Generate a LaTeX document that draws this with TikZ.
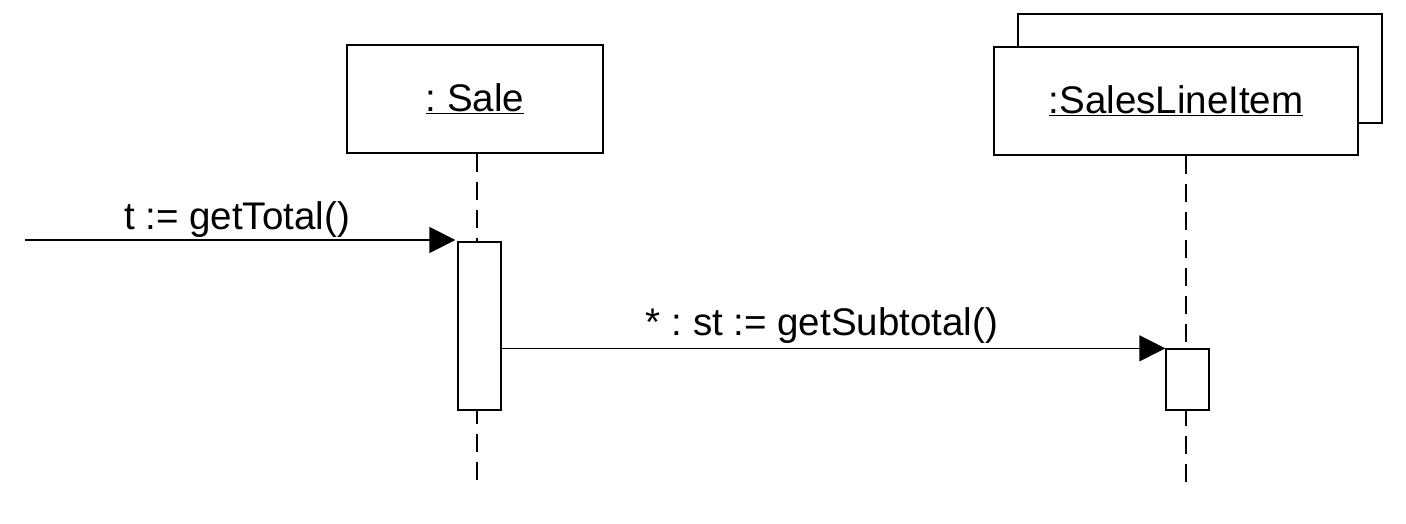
\documentclass[tikz,border=0pt]{standalone}
\usepackage{fontspec}
\setmainfont{Liberation Sans}
\usetikzlibrary{arrows.meta}
\frenchspacing
\begin{document}
\begin{tikzpicture}[x=1pt,y=-1pt, line width=1.3pt,
  obj/.style={draw, fill=white, inner sep=0pt, font=\fontsize{38.5}{46}\selectfont\frenchspacing},
  act/.style={draw, fill=white, inner sep=0pt, minimum width=43pt},
  life/.style={dash pattern=on 18pt off 10pt},
  msg/.style={-{Triangle[length=26pt,width=26pt]}},
  lbl/.style={font=\fontsize{38.5}{46}\selectfont\frenchspacing, anchor=base, inner sep=0pt}]
\useasboundingbox (0,0) rectangle (1406,524);
% objects
\node[obj, minimum width=256pt, minimum height=108pt] (sale) at (475,99) {\underline{: Sale}};
\node[obj, minimum width=364pt, minimum height=109pt] (sliback) at (1200,68.5) {};
\node[obj, minimum width=364pt, minimum height=108pt] (sli) at (1176,101) {\underline{:SalesLineItem}};
% lifelines
\coordinate (saleEnd) at (477,488);
\coordinate (sliEnd) at (1186,488);
\draw[life] (saleEnd |- sale.south) -- (saleEnd);
\draw[life] (sliEnd |- sli.south) -- (sliEnd);
% activations
\node[act, minimum height=168pt] (saleAct) at (479.5,326) {};
\node[act, minimum height=61pt] (sliAct) at (1187.5,379.5) {};
% messages
\coordinate (start) at (25,240);
\draw[msg, shorten >=2pt] (start) -- (saleAct.west |- start);
\draw[msg] (saleAct.east |- sliAct.north) -- (sliAct.north west);
\node[lbl] (l1) at (237,229) {t := getTotal()};
\node[lbl] (l2) at (822,335) {* : st := getSubtotal()};
\end{tikzpicture}
\end{document}
